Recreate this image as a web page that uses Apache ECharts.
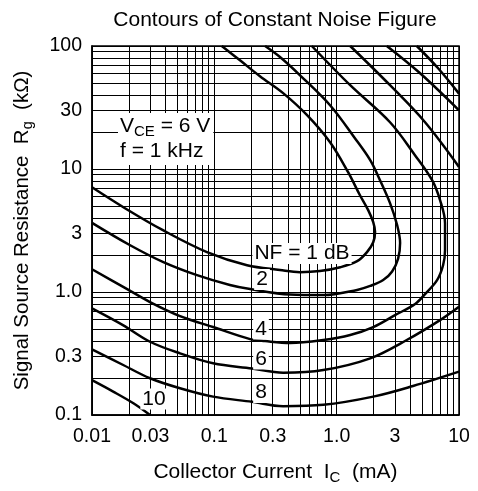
<!DOCTYPE html>
<html><head><meta charset="utf-8">
<script src="https://cdn.jsdelivr.net/npm/echarts@6/dist/echarts.min.js"></script>
<style>html,body{margin:0;padding:0;background:#fff}#c{width:478px;height:491px}</style>
</head><body><div id="c"></div>
<script>
const FONT = '"Liberation Sans", Arial, Helvetica, sans-serif';

// tick labels
const xTickValues = [0.01, 0.03, 0.1, 0.3, 1, 3, 10];
const xTickLabels = ['0.01', '0.03', '0.1', '0.3', '1.0', '3', '10'];
const yTickValues = [0.1, 0.3, 1, 3, 10, 30, 100];
const yTickLabels = ['0.1', '0.3', '1.0', '3', '10', '30', '100'];

// grid line values (log paper)
const xGridValues = [0.01,0.02,0.03,0.04,0.05,0.06,0.07,0.08,0.09,
                     0.1,0.2,0.3,0.4,0.5,0.6,0.7,0.8,0.9,
                     1,2,3,4,5,6,7,8,9,10];
const yGridValues = [0.1,0.2,0.3,0.4,0.5,0.6,0.7,0.8,0.9,
                     1,2,3,4,5,6,7,8,9,
                     10,20,30,40,50,60,70,80,90,100];

// contour curves: [Ic (mA), Rg (kOhm)]
const nf1 = [[0.115,100],[0.162,76.5],[0.236,56.8],[0.365,41.4],[0.573,27.4],[0.883,16.5],[1.24,9.42],[1.55,6.12],[1.81,4.63],[1.99,3.70],[2.06,3.07],[1.99,2.54],[1.77,2.11],[1.47,1.78],[1.07,1.59],[0.73,1.48],[0.50,1.45],[0.344,1.51],[0.185,1.65],[0.087,2.11],[0.038,3.18],[0.0186,4.80],[0.01,7.1]];
const nf2 = [[0.26,100],[0.344,81.4],[0.502,57.8],[0.883,33.0],[1.41,17.8],[1.88,11.8],[2.26,8.11],[2.73,5.28],[3.12,3.50],[3.30,2.50],[3.18,1.87],[2.84,1.47],[2.40,1.25],[1.88,1.12],[1.47,1.04],[0.78,0.944],[0.416,0.953],[0.196,1.056],[0.134,1.14],[0.0722,1.37],[0.0383,1.75],[0.0205,2.40],[0.01,3.65]];
const nf4 = [[0.626,100],[1.29,48.0],[2.73,24.0],[4.38,12.9],[6.03,8.11],[7.0,5.58],[7.69,3.63],[7.69,2.19],[7.41,1.65],[6.62,1.25],[5.28,0.962],[4.38,0.798],[3.0,0.649],[1.99,0.519],[1.29,0.447],[0.778,0.407],[0.416,0.385],[0.26,0.399],[0.196,0.414],[0.0976,0.519],[0.0524,0.637],[0.0298,0.828],[0.0186,1.08],[0.01,1.53]];
const nf6Upper = [[1.29,100],[2.73,48.0],[5.28,24.0],[10,10.4]];
const nf6Lower = [[0.01,0.736],[0.0179,0.538],[0.0298,0.394],[0.0524,0.317],[0.0976,0.263],[0.203,0.239],[0.365,0.221],[0.778,0.232],[1.88,0.289],[3.74,0.407],[7.0,0.591],[10,0.759]];
const nf8Upper = [[2.57,100],[4.81,60.0],[10,30.0]];
const nf8Lower = [[0.01,0.342],[0.018,0.255],[0.0298,0.199],[0.0524,0.165],[0.0976,0.141],[0.203,0.128],[0.365,0.118],[0.778,0.121],[1.99,0.141],[4.21,0.172],[10,0.225]];
const nf10Upper = [[4.52,100],[6.75,65.9],[10,41.0]];
const nf10Lower = [[0.01,0.192],[0.0149,0.155],[0.0218,0.1245],[0.0298,0.1]];

const curves = [nf1, nf2, nf4, nf6Upper, nf6Lower, nf8Upper, nf8Lower, nf10Upper, nf10Lower];

function lookup(vals, labels) {
  return function (v) {
    for (let i = 0; i < vals.length; i++) {
      if (Math.abs(v / vals[i] - 1) < 1e-6) return labels[i];
    }
    return '';
  };
}

const chart = echarts.init(document.getElementById('c'), null, {renderer: 'canvas'});

const subRich = {
  a: {fontSize: 21, fontFamily: FONT, color: '#000'},
  s: {fontSize: 15, fontFamily: FONT, color: '#000', padding: [10, 0, 0, 0]}
};
const subRichY = {
  a: {fontSize: 20.5, fontFamily: FONT, color: '#000'},
  s: {fontSize: 14.5, fontFamily: FONT, color: '#000', padding: [10, 0, 0, 0]}
};

function labelText(txt, x, y) {
  return {
    type: 'text', x: x, y: y, z: 100,
    style: {
      text: txt, fontSize: 21, fontFamily: FONT, fill: '#000',
      align: 'center', verticalAlign: 'middle', textAlign: 'center', textVerticalAlign: 'middle',
      backgroundColor: '#fff', padding: [0, 2, 0, 2]
    }
  };
}

chart.setOption({
  animation: false,
  backgroundColor: '#fff',
  title: {
    text: 'Contours of Constant Noise Figure',
    left: 275, top: 10, textAlign: 'center', padding: 0,
    textStyle: {fontSize: 21, fontWeight: 'normal', color: '#000', fontFamily: FONT}
  },
  grid: {
    left: 92, right: 19, top: 46, bottom: 76,
    show: true, borderColor: '#000', borderWidth: 1.5, backgroundColor: '#fff',
    containLabel: false, outerBoundsMode: 'none'
  },
  xAxis: {
    type: 'log', logBase: 10, min: 0.01, max: 10,
    name: '{a|Collector Current  I}{s|C}{a|  (mA)}',
    nameLocation: 'middle', nameGap: 45, nameMoveOverlap: false,
    nameTextStyle: {rich: subRich},
    axisLine: {show: true, lineStyle: {color: '#000', width: 1.5}},
    axisTick: {show: false, customValues: xGridValues},
    axisLabel: {customValues: xTickValues, formatter: lookup(xTickValues, xTickLabels),
      fontSize: 19.5, color: '#000', fontFamily: FONT, margin: 12},
    splitLine: {show: true, lineStyle: {color: '#000', width: 1}},
    minorTick: {show: false}, minorSplitLine: {show: false}
  },
  yAxis: {
    type: 'log', logBase: 10, min: 0.1, max: 100,
    name: '{a|Signal Source Resistance  R}{s|g}{a|  (kΩ)}',
    nameLocation: 'middle', nameGap: 57, nameRotate: 90, nameMoveOverlap: false,
    nameTextStyle: {rich: subRichY},
    axisLine: {show: true, lineStyle: {color: '#000', width: 1.5}},
    axisTick: {show: false, customValues: yGridValues},
    axisLabel: {customValues: yTickValues, formatter: lookup(yTickValues, yTickLabels),
      fontSize: 19.5, color: '#000', fontFamily: FONT, margin: 10},
    splitLine: {show: true, lineStyle: {color: '#000', width: 1}},
    minorTick: {show: false}, minorSplitLine: {show: false}
  },
  series: curves.map(function (d) {
    return {
      type: 'line', data: d, showSymbol: false, symbol: 'none', smooth: 0.35,
      clip: true, silent: true, z: 5,
      lineStyle: {color: '#000', width: 2.5}
    };
  }),
  graphic: [
    {
      type: 'text', x: 118, y: 113, z: 100,
      style: {
        text: '{a|V}{s|CE}{a| = 6 V}\n{a|f = 1 kHz}',
        rich: {
          a: {fontSize: 21, fontFamily: FONT, fill: '#000', color: '#000', lineHeight: 25},
          s: {fontSize: 15, fontFamily: FONT, fill: '#000', color: '#000', lineHeight: 25, padding: [10, 0, 0, 0]}
        },
        align: 'left', verticalAlign: 'top', textAlign: 'left', textVerticalAlign: 'top',
        backgroundColor: '#fff', padding: [1, 3, 1, 2]
      }
    },
    labelText('NF = 1 dB', 302, 253.5),
    labelText('2', 262, 279.5),
    labelText('4', 261, 329),
    labelText('6', 261, 359),
    labelText('8', 261, 392.5),
    labelText('10', 154, 399)
  ]
});
</script></body></html>
